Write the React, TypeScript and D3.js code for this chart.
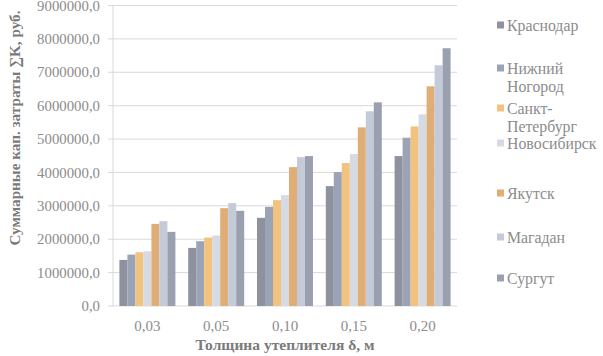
import React from "react";
import * as d3 from "d3";

const categories = ["0,03", "0,05", "0,10", "0,15", "0,20"];
const seriesNames = ["Краснодар", "Нижний Ногород", "Санкт-Петербург", "Новосибирск", "Якутск", "Магадан", "Сургут"];
const legendLines = [["Краснодар"], ["Нижний", "Ногород"], ["Санкт-", "Петербург"], ["Новосибирск"], ["Якутск"], ["Магадан"], ["Сургут"]];
const seriesColors = ["#8e929e", "#9ba3b6", "#f2c27f", "#d6dae3", "#dfae76", "#c4cad8", "#9aa0af"];
// values[series][category]
const krasnodar = [1380000, 1740000, 2640000, 3590000, 4490000];
const nizhny = [1540000, 1940000, 2970000, 4010000, 5040000];
const spb = [1610000, 2050000, 3170000, 4280000, 5380000];
const novosib = [1640000, 2110000, 3320000, 4550000, 5740000];
const yakutsk = [2460000, 2930000, 4160000, 5350000, 6580000];
const magadan = [2540000, 3080000, 4460000, 5830000, 7210000];
const surgut = [2220000, 2850000, 4490000, 6100000, 7720000];
const values = [krasnodar, nizhny, spb, novosib, yakutsk, magadan, surgut];
const yTicks = [0, 1000000, 2000000, 3000000, 4000000, 5000000, 6000000, 7000000, 8000000, 9000000];

export default function App() {
  const W = 603, H = 356;
  const left = 113, right = 457, top = 5.5, bottom = 306;
  const x0 = d3.scaleBand<string>().domain(categories).range([left, right]).paddingInner(0.186).paddingOuter(0.093);
  const x1 = d3.scaleBand<string>().domain(seriesNames).range([0, x0.bandwidth()]);
  const y = d3.scaleLinear().domain([0, 9000000]).range([bottom, top]);
  const fmt = (v: number) => d3.format(".1f")(v).replace(".", ",");
  const font = "Liberation Serif";
  const legendY = [25, 68, 108, 143, 193, 237, 278];
  const ts = { fontFamily: font };
  return (
    <svg width={W} height={H} style={{ position: "absolute", left: 0, top: 0, background: "#fff", fontFamily: font }}>
      {yTicks.map((t) => (
        <g key={t}>
          <line x1={left - 5} x2={right} y1={y(t)} y2={y(t)} stroke="#d9d9d9" strokeWidth={1} />
          <text style={ts} x={100} y={y(t)} dy="0.35em" textAnchor="end" fontSize={14.8} fill="#8c8c8c">{fmt(t)}</text>
        </g>
      ))}
      <line x1={left} x2={left} y1={top} y2={bottom} stroke="#d9d9d9" />
      {categories.map((c, ci) => (
        <g key={c}>
          {seriesNames.map((s, si) => (
            <rect key={s} x={(x0(c) as number) + (x1(s) as number)} width={x1.bandwidth()} y={y(values[si][ci])} height={bottom - y(values[si][ci])} fill={seriesColors[si]} />
          ))}
          <text style={ts} x={(x0(c) as number) + x0.bandwidth() / 2} y={326} dy="0.35em" textAnchor="middle" fontSize={15} fill="#8c8c8c">{c}</text>
        </g>
      ))}
      <text style={ts} x={(left + right) / 2} y={345} dy="0.35em" textAnchor="middle" fontSize={15.5} fontWeight="bold" fill="#7a7a7a">Толщина утеплителя δ, м</text>
      <text style={ts} transform={`translate(15,128) rotate(-90)`} dy="0.35em" textAnchor="middle" fontSize={15.2} fontWeight="bold" fill="#7a7a7a">Суммарные кап. затраты ∑K, руб.</text>
      {legendLines.map((lines, i) => (
        <g key={i}>
          <rect x={497} y={legendY[i] - 3.5} width={7} height={7} fill={seriesColors[i]} />
          {lines.map((ln, li) => (
            <text style={ts} key={li} x={507} y={legendY[i] + li * 18} dy="0.35em" fontSize={15.8} fill="#8c8c8c">{ln}</text>
          ))}
        </g>
      ))}
    </svg>
  );
}
